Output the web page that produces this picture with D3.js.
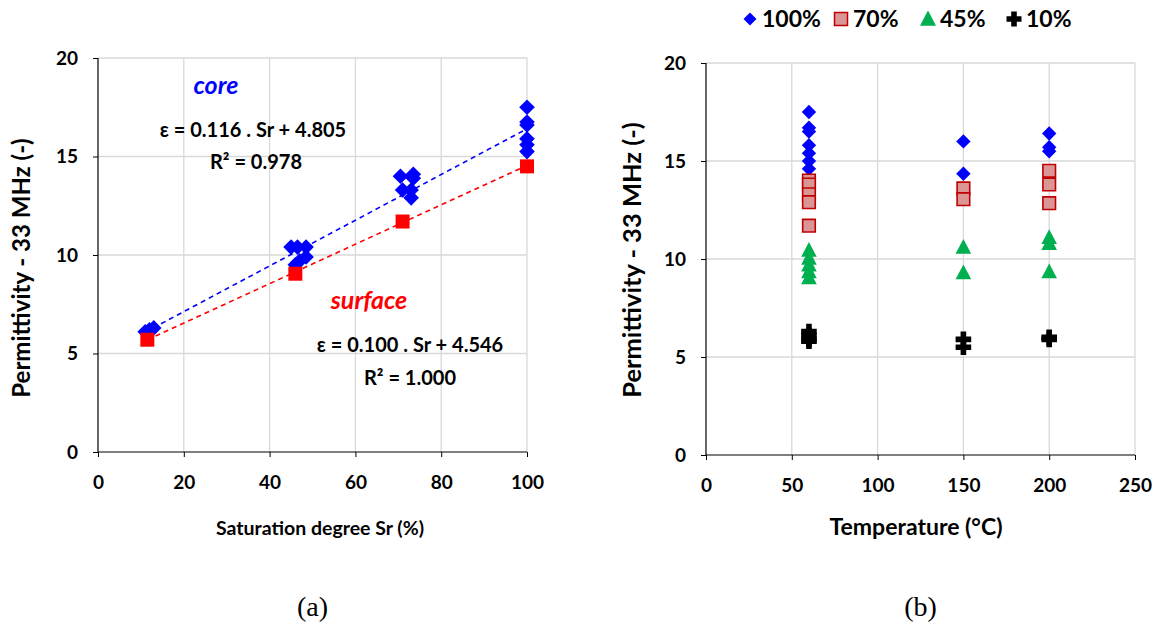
<!DOCTYPE html>
<html><head><meta charset="utf-8">
<script src="https://cdn.jsdelivr.net/npm/d3@7/dist/d3.min.js"></script>
<style>
body{margin:0;background:#fff;}
svg{display:block;}
text{font-family:Lato,"Open Sans",sans-serif;font-weight:bold;fill:#000;}
</style></head><body>
<svg id="c" width="1158" height="628"></svg>
<script>
// ---------- data: panel (a) ----------
const coreSr  = [11, 12, 13, 45, 46.5, 48.5, 48.5, 47, 46, 70.5, 73.5, 71, 73, 73, 73.5, 100, 100, 100, 100, 100, 100];
const coreEps = [6.1, 6.2, 6.3, 10.4, 10.4, 10.4, 9.9, 9.7, 9.5, 14.0, 14.1, 13.3, 13.3, 12.9, 13.9, 17.5, 16.75, 16.6, 15.9, 15.6, 15.25];
const surfSr  = [11.5, 46, 71, 100];
const surfEps = [5.7, 9.05, 11.7, 14.5];
const coreFit = {slope: 0.116, icept: 4.805, from: 11, to: 100};
const surfFit = {slope: 0.100, icept: 4.546, from: 11.5, to: 100};
const xTicksA = [0, 20, 40, 60, 80, 100];
const yTicks  = [0, 5, 10, 15, 20];

// ---------- data: panel (b) ----------
const seriesNames = ["100%", "70%", "45%", "10%"];
const t100 = [60,60,60,60,60,60,60, 150,150, 200,200,200];
const e100 = [17.5,16.7,16.5,15.8,15.4,15.0,14.6, 16.0,14.35, 16.4,15.7,15.5];
const t70  = [60,60,60,60,60, 150,150, 200,200,200];
const e70  = [14.0,13.8,13.3,12.9,11.7, 13.6,13.05, 14.5,13.8,12.85];
const t45  = [60,60,60,60,60, 150,150, 200,200,200];
const e45  = [10.45,10.05,9.7,9.35,9.05, 10.6,9.3, 11.1,10.8,9.35];
const t10  = [60,60,60,60, 150,150, 200,200];
const e10  = [6.3,6.1,5.9,5.8, 5.9,5.5, 6.0,5.9];
const xTicksB = [0, 50, 100, 150, 200, 250];

const svg = d3.select("#c");
const grid = "#d9d9d9";

const shapes = {
  diamond: r => `M0,${-r}L${r},0L0,${r}L${-r},0Z`,
  square: r => `M${-r},${-r}H${r}V${r}H${-r}Z`,
  triangle: r => `M0,${-r*1.05}L${r},${r*0.85}L${-r},${r*0.85}Z`,
  plus: r => { const a = r, w = 2.8; return `M${-w},${-a}H${w}V${-w}H${a}V${w}H${w}V${a}H${-w}V${w}H${-a}V${-w}H${-w}Z`; }
};

function panel(g, x, y, xTicks, xTitle, xTitleX, xTitleSize, yTitle, yTitleX, yTitleY, yTitleSize, letter) {
  const [x0, x1] = x.range(), [y0, y1] = y.range();
  g.selectAll(".gv").data(xTicks.slice(1)).join("line")
    .attr("x1", d => x(d)).attr("x2", d => x(d)).attr("y1", y0).attr("y2", y1)
    .attr("stroke", grid).attr("stroke-width", 1.3);
  g.selectAll(".gh").data(yTicks.slice(1)).join("line")
    .attr("x1", x0).attr("x2", x1).attr("y1", d => y(d)).attr("y2", d => y(d))
    .attr("stroke", grid).attr("stroke-width", 1.3);
  const ax = g.append("g").attr("transform", `translate(0,${y0})`)
    .call(d3.axisBottom(x).tickValues(xTicks).tickSize(5).tickPadding(19).tickFormat(d3.format("d")));
  ax.select(".domain").attr("stroke", "#000").attr("stroke-width", 1.2).attr("d", `M${x0},0H${x1}`);
  ax.selectAll(".tick line").attr("stroke", "#000");
  ax.selectAll("text").style("font-size", "19px").style("font-family", "Lato").style("font-weight", "bold");
  const ay = g.append("g").attr("transform", `translate(${x0},0)`)
    .call(d3.axisLeft(y).tickValues(yTicks).tickSize(5).tickPadding(15));
  ay.select(".domain").attr("stroke", "#000").attr("stroke-width", 1.2).attr("d", `M0,${y0}V${y1}`);
  ay.selectAll(".tick line").attr("stroke", "#000");
  ay.selectAll("text").style("font-size", "19px").style("font-family", "Lato").style("font-weight", "bold");
  g.append("text").attr("x", xTitleX).attr("y", 535).attr("text-anchor", "middle")
    .style("font-size", xTitleSize + "px").text(xTitle);
  g.append("text").attr("transform", `translate(${yTitleX},${yTitleY}) rotate(-90)`)
    .attr("text-anchor", "middle").style("font-size", yTitleSize + "px").text(yTitle);
  g.append("text").attr("x", (x0 + x1) / 2).attr("y", 616).attr("text-anchor", "middle")
    .style("font-family", "'Liberation Serif',serif").style("font-weight", "normal").style("font-size", "28px").text(letter);
}

function markers(g, xs, ys, x, y, shape, r, fill, stroke, sw) {
  g.append("g").selectAll("path").data(xs.map((d, i) => [d, ys[i]])).join("path")
    .attr("transform", d => `translate(${x(d[0])},${y(d[1])})`)
    .attr("d", shapes[shape](r)).attr("fill", fill)
    .attr("stroke", stroke || "none").attr("stroke-width", sw || 0);
}

// ---------- panel (a) ----------
const xA = d3.scaleLinear().domain([0, 100]).range([98, 527]);
const yA = d3.scaleLinear().domain([0, 20]).range([452, 58]);
const gA = svg.append("g");
panel(gA, xA, yA, xTicksA, "Saturation degree Sr (%)", 320, 19.5, "Permittivity - 33 MHz (-)", 30, 268, 24, "(a)");

function fitLine(f, color) {
  const pts = [f.from, f.to].map(s => [s, f.slope * s + f.icept]);
  gA.append("path").attr("d", d3.line().x(d => xA(d[0])).y(d => yA(d[1]))(pts))
    .attr("stroke", color).attr("stroke-width", 1.6).attr("stroke-dasharray", "5,4").attr("fill", "none");
}
markers(gA, coreSr, coreEps, xA, yA, "diamond", 7.8, "#0000ff");
markers(gA, surfSr, surfEps, xA, yA, "square", 7, "#ff0000");
fitLine(coreFit, "#0000ff");
fitLine(surfFit, "#ff0000");

gA.append("text").attr("x", 216).attr("y", 94).attr("text-anchor", "middle")
  .style("font-size", "25px").style("font-style", "italic").style("fill", "#0000ff").text("core");
gA.append("text").attr("x", 253).attr("y", 137).attr("text-anchor", "middle").style("font-size", "20px")
  .text(`ε = ${coreFit.slope.toFixed(3)} . Sr + ${coreFit.icept.toFixed(3)}`);
gA.append("text").attr("x", 256).attr("y", 169).attr("text-anchor", "middle").style("font-size", "20px").text("R² = 0.978");
gA.append("text").attr("x", 369).attr("y", 309).attr("text-anchor", "middle")
  .style("font-size", "25px").style("font-style", "italic").style("fill", "#ff0000").text("surface");
gA.append("text").attr("x", 410).attr("y", 352).attr("text-anchor", "middle").style("font-size", "20px")
  .text(`ε = ${surfFit.slope.toFixed(3)} . Sr + ${surfFit.icept.toFixed(3)}`);
gA.append("text").attr("x", 410).attr("y", 385).attr("text-anchor", "middle").style("font-size", "20px").text("R² = 1.000");

// ---------- panel (b) ----------
const xB = d3.scaleLinear().domain([0, 250]).range([706, 1135]);
const yB = d3.scaleLinear().domain([0, 20]).range([455, 63]);
const gB = svg.append("g");
panel(gB, xB, yB, xTicksB, "Temperature (°C)", 916, 23, "Permittivity - 33 MHz (-)", 641, 260, 25.5, "(b)");

markers(gB, t100, e100, xB, yB, "diamond", 7.2, "#0000ff");
markers(gB, t70, e70, xB, yB, "square", 6.3, "#d99694", "#c00000", 1.6);
markers(gB, t45, e45, xB, yB, "triangle", 7.8, "#00b050");
markers(gB, t10, e10, xB, yB, "plus", 7.8, "#000");

// legend
const legShapes = [["diamond", 6.5, "#0000ff", null, 0], ["square", 6.5, "#d99694", "#c00000", 1.5],
                   ["triangle", 8, "#00b050", null, 0], ["plus", 7.5, "#000", null, 0]];
const legX = [750, 841, 928, 1014];
const leg = svg.append("g");
seriesNames.forEach((n, i) => {
  const s = legShapes[i];
  leg.append("path").attr("transform", `translate(${legX[i]},19)`).attr("d", shapes[s[0]](s[1]))
    .attr("fill", s[2]).attr("stroke", s[3] || "none").attr("stroke-width", s[4]);
  leg.append("text").attr("x", legX[i] + 12).attr("y", 27).style("font-size", "23px").text(n);
});
</script>
</body></html>
